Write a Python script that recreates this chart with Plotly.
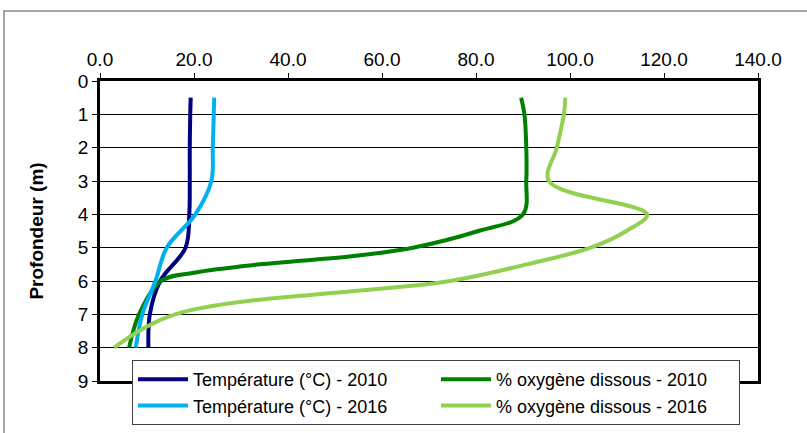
import plotly.graph_objects as go

# ---- data ----
depth_temp = [0.5, 1, 2, 3, 4, 5, 6, 7, 8]
temp_2010 = [19.3, 19.2, 19.1, 19.1, 19.0, 18.2, 12.8, 10.6, 10.3]
temp_2016 = [24.3, 24.2, 24.0, 23.7, 20.3, 14.2, 11.8, 9.0, 7.6]

depth_oxy_2010 = [0.5, 1, 2, 3, 4, 4.5, 5, 5.25, 5.5, 5.75, 6, 7, 8]
oxy_2010 = [89.6, 90.3, 90.7, 90.7, 90.0, 80.5, 66.6, 54.0, 34.0, 20.0, 13.0, 8.3, 6.2]

depth_oxy_2016 = [0.5, 1, 2, 3, 4, 4.5, 5, 5.5, 6, 7, 8]
oxy_2016 = [99.0, 98.7, 97.2, 95.5, 116.4, 112.0, 104.4, 90.8, 74.5, 16.0, 3.0]

x_ticks = [0, 20, 40, 60, 80, 100, 120, 140]
y_ticks = [0, 1, 2, 3, 4, 5, 6, 7, 8, 9]

names = ["Température (°C) - 2010", "% oxygène dissous - 2010",
         "Température (°C) - 2016", "% oxygène dissous - 2016"]
colors = ["#000080", "#008000", "#00B0F0", "#92D050"]

FONT = "Arial, Liberation Sans, sans-serif"

fig = go.Figure()
series = [(temp_2010, depth_temp), (oxy_2010, depth_oxy_2010),
          (temp_2016, depth_temp), (oxy_2016, depth_oxy_2016)]
for (xs, ys), name, col in zip(series, names, colors):
    fig.add_trace(go.Scatter(
        x=xs, y=ys, name=name, mode="lines",
        line=dict(color=col, width=4, shape="spline", smoothing=1.0),
    ))

fig.update_layout(
    width=807, height=433,
    margin=dict(l=100, r=49, t=81, b=52, autoexpand=False),
    paper_bgcolor="white", plot_bgcolor="white",
    font=dict(family=FONT, color="black"),
    showlegend=True,
    legend=dict(
        orientation="h",
        x=0.0486, y=0.07, xanchor="left", yanchor="top",
        bgcolor="white", bordercolor="#404040", borderwidth=1,
        font=dict(family=FONT, size=18, color="black"),
        entrywidth=238, entrywidthmode="pixels",
        itemwidth=50,
    ),
    xaxis=dict(
        side="top", range=[0, 140], tickvals=x_ticks, tickformat=".1f",
        showgrid=False, zeroline=False,
        showline=True, linecolor="black", linewidth=2.5, mirror=True,
        ticks="outside", ticklen=5, tickcolor="black", tickwidth=1,
        tickfont=dict(family=FONT, size=19, color="black"),
    ),
    yaxis=dict(
        range=[9, 0], tickvals=y_ticks,
        showgrid=True, gridcolor="black", gridwidth=1, zeroline=False,
        showline=True, linecolor="black", linewidth=2.5, mirror=True,
        ticks="outside", ticklen=5, tickcolor="black", tickwidth=1,
        tickfont=dict(family=FONT, size=19, color="black"),
        title=dict(text="<b>Profondeur (m)</b>", standoff=30,
                   font=dict(family=FONT, size=19, color="black")),
    ),
    shapes=[dict(type="rect", xref="paper", yref="paper",
                 x0=-0.1459, x1=1.3, y0=-0.4, y1=1.2333,
                 line=dict(color="#888888", width=1.5), layer="below")],
)

fig.write_html("out.html", config={"displayModeBar": False},
               post_script="document.body.style.margin='0';")
